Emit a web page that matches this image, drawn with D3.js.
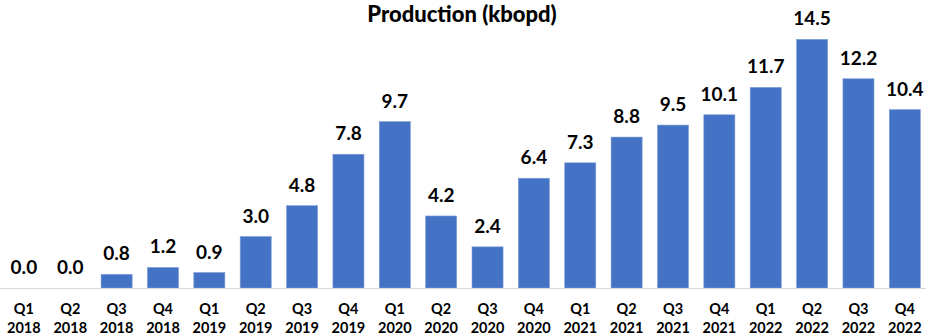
<!DOCTYPE html>
<html>
<head>
<meta charset="utf-8">
<script src="https://cdn.jsdelivr.net/npm/d3@7"></script>
<style>
  html, body { margin: 0; padding: 0; background: #fff; }
  svg { display: block; }
  text { font-family: Lato, "Open Sans", sans-serif; font-weight: bold; fill: #000; }
</style>
</head>
<body>
<svg id="chart" width="926" height="336"></svg>
<script>
// Quarterly production, thousand barrels of oil per day
const quarters = ["Q1","Q2","Q3","Q4","Q1","Q2","Q3","Q4","Q1","Q2","Q3","Q4","Q1","Q2","Q3","Q4","Q1","Q2","Q3","Q4"];
const years = ["2018","2018","2018","2018","2019","2019","2019","2019","2020","2020","2020","2020","2021","2021","2021","2021","2022","2022","2022","2022"];
const production = [0.0, 0.0, 0.8, 1.2, 0.9, 3.0, 4.8, 7.8, 9.7, 4.2, 2.4, 6.4, 7.3, 8.8, 9.5, 10.1, 11.7, 14.5, 12.2, 10.4];
const title = "Production (kbopd)";

const data = production.map((v, i) => ({ key: quarters[i] + " " + years[i], q: quarters[i], y: years[i], v }));

const svg = d3.select("#chart");
const baseline = 288;

const x = d3.scaleBand()
  .domain(data.map(d => d.key))
  .range([0.7, 928])
  .paddingInner(0.33)
  .paddingOuter(0.165);

const y = d3.scaleLinear().domain([0, 16]).range([baseline, baseline - 16 * 17.15]);

// title
svg.append("text")
  .attr("x", 462).attr("y", 22)
  .attr("text-anchor", "middle")
  .style("font-size", "22px")
  .style("font-weight", "900")
  .text(title);

// bars
svg.append("g").selectAll("rect")
  .data(data)
  .join("rect")
  .attr("x", d => x(d.key))
  .attr("width", x.bandwidth())
  .attr("y", d => y(d.v))
  .attr("height", d => baseline - y(d.v))
  .attr("fill", "#4472C4")
  .attr("stroke", "#7f9fd8")
  .attr("stroke-width", 0.6);

// baseline
svg.append("line")
  .attr("x1", 0).attr("x2", 926)
  .attr("y1", baseline + 0.5).attr("y2", baseline + 0.5)
  .attr("stroke", "#d9d9d9").attr("stroke-width", 1);

// value labels
svg.append("g").selectAll("text")
  .data(data)
  .join("text")
  .attr("x", d => x(d.key) + x.bandwidth() / 2)
  .attr("y", d => y(d.v) - 14)
  .attr("text-anchor", "middle")
  .style("font-size", "19px")
  .text(d => d.v.toFixed(1));

// category labels (quarter over year)
const cat = svg.append("g").selectAll("text")
  .data(data)
  .join("text")
  .attr("text-anchor", "middle")
  .style("font-size", "14.5px");
cat.append("tspan")
  .attr("x", d => x(d.key) + x.bandwidth() / 2)
  .attr("y", 314)
  .text(d => d.q);
cat.append("tspan")
  .attr("x", d => x(d.key) + x.bandwidth() / 2)
  .attr("y", 333)
  .text(d => d.y);
</script>
</body>
</html>
